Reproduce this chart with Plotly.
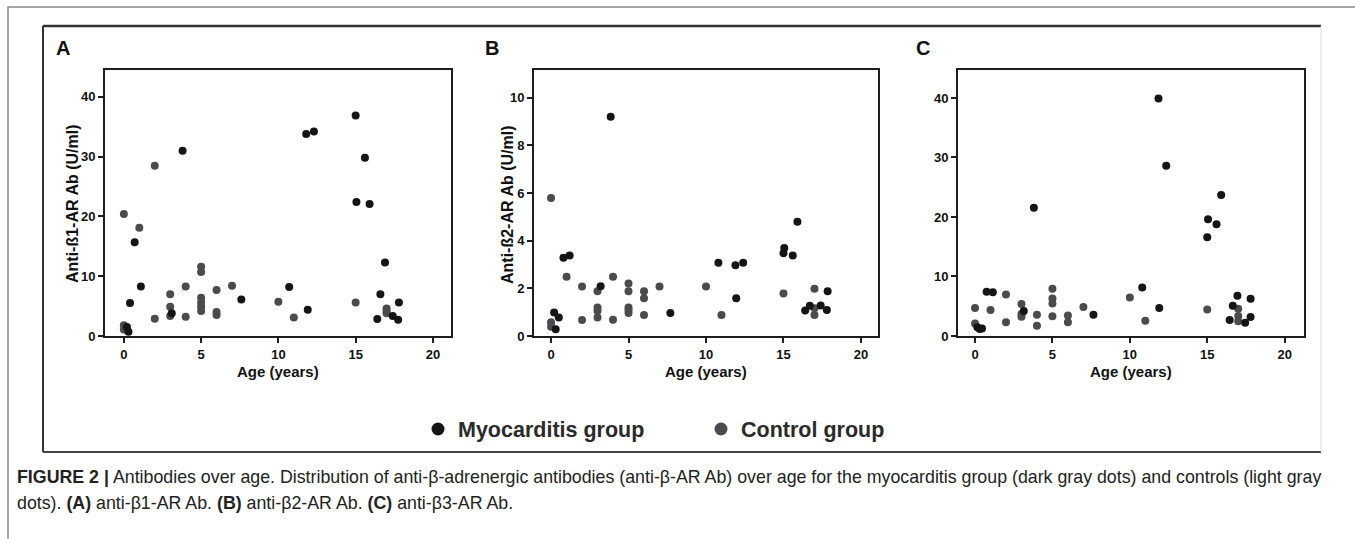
import plotly.graph_objects as go

W, H = 1355, 539

# ---------------- data ----------------
# Panel A: anti-beta1-AR Ab (U/ml)
a_myo_age = [0.2, 0.3, 0.4, 0.7, 1.1, 3.1, 3.8, 7.6, 10.7, 11.9, 11.8, 12.3, 15.0, 15.05, 15.6, 15.9, 16.4, 16.6, 16.9, 17.4, 17.75, 17.8]
a_myo_val = [1.5, 0.7, 5.5, 15.7, 8.3, 3.8, 31.0, 6.1, 8.2, 4.4, 33.8, 34.2, 36.9, 22.4, 29.8, 22.1, 2.85, 7.0, 12.3, 3.35, 2.7, 5.6]
a_ctl_age = [0, 0, 0, 1, 2, 2, 3, 3, 3, 4, 4, 5, 5, 5, 5, 5, 5, 6, 6, 6, 7, 10, 11, 15, 17, 17, 17]
a_ctl_val = [20.4, 1.8, 1.1, 18.1, 28.5, 2.9, 7.0, 4.9, 3.35, 8.3, 3.2, 11.6, 10.7, 6.4, 5.6, 4.9, 4.2, 7.7, 4.0, 3.5, 8.4, 5.75, 3.1, 5.6, 4.6, 4.2, 3.8]

# Panel B: anti-beta2-AR Ab (U/ml)
b_myo_age = [0.2, 0.3, 0.5, 0.8, 1.2, 3.2, 3.85, 7.7, 10.8, 11.9, 11.95, 12.4, 15.05, 15.0, 15.6, 15.9, 16.4, 16.7, 17.4, 17.8, 17.85]
b_myo_val = [0.99, 0.28, 0.78, 3.29, 3.38, 2.09, 9.21, 0.97, 3.08, 2.97, 1.59, 3.08, 3.7, 3.48, 3.38, 4.8, 1.07, 1.27, 1.28, 1.09, 1.88]
b_ctl_age = [0, 0, 0, 1, 2, 2, 3, 3, 3, 3, 4, 4, 5, 5, 5, 5, 5, 6, 6, 6, 7, 10, 11, 15, 17, 17, 17]
b_ctl_val = [5.79, 0.58, 0.39, 2.49, 2.08, 0.67, 1.88, 1.2, 1.06, 0.78, 2.49, 0.68, 2.2, 1.88, 1.2, 1.09, 0.97, 1.88, 1.59, 0.88, 2.08, 2.08, 0.88, 1.78, 1.98, 1.17, 0.88]

# Panel C: anti-beta3-AR Ab (U/ml)
c_myo_age = [0.15, 0.3, 0.45, 0.75, 1.15, 3.15, 3.8, 7.65, 10.8, 11.85, 11.9, 12.35, 15.05, 15.0, 15.6, 15.9, 16.45, 16.65, 16.95, 17.45, 17.8, 17.8]
c_myo_val = [1.45, 1.17, 1.28, 7.43, 7.37, 4.19, 21.56, 3.58, 8.16, 39.9, 4.69, 28.6, 19.6, 16.6, 18.77, 23.7, 2.68, 5.08, 6.76, 2.23, 3.18, 6.26]
c_ctl_age = [0, 0, 1, 2, 2, 3, 3, 3, 4, 4, 5, 5, 5, 5, 6, 6, 7, 10, 11, 15, 17, 17, 17]
c_ctl_val = [4.69, 2.12, 4.36, 6.98, 2.29, 5.36, 3.69, 3.24, 3.58, 1.73, 7.93, 6.31, 5.47, 3.3, 3.46, 2.29, 4.86, 6.48, 2.57, 4.47, 4.58, 3.35, 2.46]

x_ticks = [0, 5, 10, 15, 20]
y_ticks_a = [0, 10, 20, 30, 40]
y_ticks_b = [0, 2, 4, 6, 8, 10]
y_ticks_c = [0, 10, 20, 30, 40]

panel_labels = ["A", "B", "C"]
y_titles = ["Anti-ß1-AR Ab (U/ml)", "Anti-ß2-AR Ab (U/ml)", ""]
x_title = "Age (years)"
group_names = ["Myocarditis group", "Control group"]
caption_1 = ("<b>FIGURE 2 |</b> Antibodies over age. Distribution of anti-β-adrenergic antibodies "
             "(anti-β-AR Ab) over age for the myocarditis group (dark gray dots) and controls (light gray")
caption_2 = "dots). <b>(A)</b> anti-β1-AR Ab. <b>(B)</b> anti-β2-AR Ab. <b>(C)</b> anti-β3-AR Ab."

# ---------------- styling ----------------
MYO_COLOR = "#151515"
CTL_COLOR = "#4a4a4f"
FONT = "Liberation Sans, Arial, Helvetica, sans-serif"
MSIZE = 8


def px(x):
    return x / W


def py(y):
    return 1 - y / H


fig = go.Figure()

panels = [
    (a_myo_age, a_myo_val, a_ctl_age, a_ctl_val),
    (b_myo_age, b_myo_val, b_ctl_age, b_ctl_val),
    (c_myo_age, c_myo_val, c_ctl_age, c_ctl_val),
]
for i, (ma, mv, ca, cv) in enumerate(panels):
    sfx = "" if i == 0 else str(i + 1)
    fig.add_trace(go.Scatter(x=ca, y=cv, mode="markers", xaxis="x" + sfx, yaxis="y" + sfx,
                             marker=dict(size=MSIZE, color=CTL_COLOR, line=dict(width=0)),
                             showlegend=False, cliponaxis=False, hoverinfo="x+y"))
    fig.add_trace(go.Scatter(x=ma, y=mv, mode="markers", xaxis="x" + sfx, yaxis="y" + sfx,
                             marker=dict(size=MSIZE, color=MYO_COLOR, line=dict(width=0)),
                             showlegend=False, cliponaxis=False, hoverinfo="x+y"))

# legend-only entries
fig.add_trace(go.Scatter(x=[None], y=[None], mode="markers", name=group_names[0],
                         marker=dict(size=13, color=MYO_COLOR), legend="legend"))
fig.add_trace(go.Scatter(x=[None], y=[None], mode="markers", name=group_names[1],
                         marker=dict(size=13, color=CTL_COLOR), legend="legend2"))

x_doms = [(105, 451), (534, 878), (958, 1304)]
x_ranges = [(-1.22, 21.17), (-1.1, 21.1), (-1.1, 21.25)]
y_ranges = [(0, 44.5), (0, 11.17), (0, 44.7)]
y_tickss = [y_ticks_a, y_ticks_b, y_ticks_c]
y_dom = (py(336), py(70))

tickfont = dict(family=FONT, size=13, color="#111", weight="bold")
titlefont = dict(family=FONT, size=16, color="#111", weight="bold")
xtitlefont = dict(family=FONT, size=15, color="#111", weight="bold")

for i in range(3):
    sfx = "" if i == 0 else str(i + 1)
    common = dict(showline=True, linecolor="#1e1e1e", linewidth=2, mirror=True,
                  ticks="outside", ticklen=5, tickwidth=2, tickcolor="#1e1e1e",
                  showgrid=False, zeroline=False, tickfont=tickfont, fixedrange=True,
                  automargin=False)
    fig.update_layout(**{
        "xaxis" + sfx: dict(domain=[px(x_doms[i][0]), px(x_doms[i][1])], range=list(x_ranges[i]),
                            tickvals=x_ticks, anchor="y" + sfx, **common),
        "yaxis" + sfx: dict(domain=list(y_dom), range=list(y_ranges[i]), tickvals=y_tickss[i],
                            anchor="x" + sfx, **common),
    })

annotations = []
label_x = [54, 483, 914]
for lab, lx in zip(panel_labels, label_x):
    annotations.append(dict(text=lab, x=px(lx), y=py(48), xref="paper", yref="paper",
                            xanchor="left", yanchor="middle", showarrow=False,
                            font=dict(family=FONT, size=20, color="#111", weight="bold")))
# axis titles
ytitle_x = [73, 508, None]
for i in range(3):
    cx = (x_doms[i][0] + x_doms[i][1]) / 2
    annotations.append(dict(text=x_title, x=px(cx), y=py(371), xref="paper", yref="paper",
                            xanchor="center", yanchor="middle", showarrow=False, font=xtitlefont))
    if y_titles[i]:
        annotations.append(dict(text=y_titles[i], x=px(ytitle_x[i]), y=py(204), xref="paper",
                                yref="paper", xanchor="center", yanchor="middle", textangle=-90,
                                showarrow=False, font=titlefont))

annotations.append(dict(text=caption_1, x=px(15), y=py(477), xref="paper", yref="paper",
                        xanchor="left", yanchor="middle", showarrow=False,
                        font=dict(family=FONT, size=17.8, color="#222")))
annotations.append(dict(text=caption_2, x=px(15), y=py(503), xref="paper", yref="paper",
                        xanchor="left", yanchor="middle", showarrow=False,
                        font=dict(family=FONT, size=17.8, color="#222")))

shapes = [
    # outer light frame
    dict(type="path", path=f"M {px(8)} {py(545)} L {px(8)} {py(7)} L 1.01 {py(7)}",
         xref="paper", yref="paper", line=dict(color="#8a8a8a", width=1.5)),
    # inner frame
    dict(type="line", x0=px(43), x1=px(1321), y0=py(26), y1=py(26), xref="paper", yref="paper",
         line=dict(color="#333", width=2.5)),
    dict(type="line", x0=px(43), x1=px(43), y0=py(26), y1=py(452), xref="paper", yref="paper",
         line=dict(color="#333", width=2)),
    dict(type="line", x0=px(43), x1=px(1321), y0=py(452), y1=py(452), xref="paper", yref="paper",
         line=dict(color="#444", width=2)),
    dict(type="line", x0=px(1321), x1=px(1321), y0=py(26), y1=py(452), xref="paper", yref="paper",
         line=dict(color="#dcdcdc", width=1)),
]

legend_font = dict(family=FONT, size=21.5, color="#2a2a2a", weight="bold")
fig.update_layout(
    width=W, height=H,
    margin=dict(l=0, r=0, t=0, b=0, autoexpand=False),
    paper_bgcolor="white", plot_bgcolor="white",
    annotations=annotations, shapes=shapes,
    legend=dict(x=px(418), y=py(429), xanchor="left", yanchor="middle", font=legend_font,
                bgcolor="rgba(0,0,0,0)", borderwidth=0),
    legend2=dict(x=px(701), y=py(429), xanchor="left", yanchor="middle", font=legend_font,
                 bgcolor="rgba(0,0,0,0)", borderwidth=0),
    showlegend=True,
)

fig.write_html("out.html", config={"displayModeBar": False},
               post_script="document.body.style.margin='0';document.body.style.overflow='hidden';")
